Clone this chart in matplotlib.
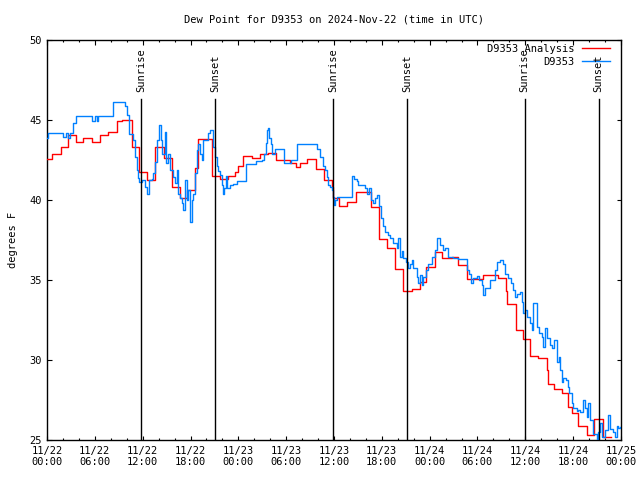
import matplotlib
matplotlib.use("Agg")
import matplotlib.pyplot as plt
from matplotlib.ticker import MultipleLocator, FixedLocator

# ---- data (hours since 2024-11-22 00:00 UTC) ----
analysis_hours = [0.0, 0.59, 1.72, 2.60, 3.64, 4.55, 5.61, 6.65, 7.69, 8.74, 9.41, 10.70,
                  11.58, 12.51, 13.55, 14.68, 15.72, 16.68, 17.52, 18.57, 18.98, 20.66,
                  21.70, 22.74, 23.58, 24.00, 24.62, 25.68, 26.72, 27.76, 28.73, 30.48,
                  31.24, 31.74, 32.58, 33.74, 34.75, 35.71, 35.91, 36.66, 37.59, 38.76,
                  40.60, 41.68, 42.61, 43.66, 44.69, 45.75, 46.79, 47.54, 48.67, 49.51,
                  50.77, 51.60, 52.65, 54.73, 56.57, 57.60, 57.70, 58.79, 59.75, 60.59,
                  61.63, 62.68, 62.80, 63.60, 64.64, 65.40, 65.82, 66.57, 67.70, 68.66,
                  69.71, 70.72]
analysis_vals = [42.54, 42.86, 43.29, 44.06, 43.65, 43.85, 43.65, 44.06, 44.27, 44.94, 45.0, 43.33,
                 41.77, 41.25, 43.33, 42.6, 40.83, 40.1, 40.6, 41.98, 43.81, 41.5,
                 41.29, 41.5, 41.77, 42.1, 42.77, 42.6, 42.88, 42.96, 42.5, 42.29,
                 42.08, 42.3, 42.54, 41.92, 41.25, 40.83, 40.1, 39.63, 39.85, 40.5,
                 39.54, 37.54, 36.98, 35.69, 34.31, 34.44, 34.9, 35.83, 36.77, 36.35,
                 36.42, 35.94, 35.04, 35.3, 35.1, 34.3, 33.5, 31.875, 31.29, 30.25,
                 30.14, 29.4, 28.5, 28.17, 27.92, 27.08, 26.67, 25.875, 25.31, 26.29,
                 25.21, 25.21]

obs_hours = [0.0, 0.13, 0.38, 2.01, 2.38, 2.63, 2.89, 3.26, 3.64, 3.80, 5.61, 6.02, 6.27, 6.40,
             8.32, 9.78, 10.07, 10.32, 10.83, 11.04, 11.25, 11.45, 11.58, 11.92, 12.29, 12.58,
             12.80, 13.11, 13.33, 13.55, 13.76, 14.09, 14.24, 14.43, 14.80, 14.93, 15.22, 15.43,
             15.77, 16.06, 16.27, 16.47, 16.68, 16.90, 17.10, 17.31, 17.52, 17.72, 17.94, 18.15,
             18.35, 18.57, 18.78, 18.98, 19.19, 19.41, 19.61, 20.03, 20.23, 20.45, 20.79, 20.86,
             21.07, 21.29, 21.49, 21.70, 21.91, 22.04, 22.20, 22.45, 22.58, 22.96, 23.37, 23.80,
             24.93, 26.22, 26.97, 27.22, 27.47, 27.56, 27.69, 27.89, 28.06, 28.19, 28.60, 29.64,
             29.73, 30.48, 30.57, 31.40, 33.74, 33.91, 34.25, 34.66, 34.87, 35.09, 35.29, 35.50,
             35.79, 35.91, 36.00, 36.13, 36.34, 38.22, 38.55, 38.85, 39.05, 39.48, 39.89, 40.10,
             40.43, 40.60, 40.86, 41.14, 41.43, 41.68, 41.86, 42.11, 42.40, 42.81, 43.03, 43.44,
             43.87, 44.07, 44.28, 44.49, 44.69, 45.03, 45.32, 45.53, 45.75, 45.95, 46.37, 46.58,
             46.79, 47.00, 47.20, 47.54, 47.83, 48.26, 48.67, 48.96, 49.30, 49.71, 49.93, 50.34,
             50.97, 51.60, 52.56, 52.65, 52.98, 53.15, 53.48, 53.90, 54.23, 54.53, 54.73, 54.94,
             55.57, 56.20, 56.41, 56.82, 57.24, 57.45, 57.83, 58.17, 58.42, 58.71, 59.00, 59.33,
             59.55, 59.75, 59.96, 60.17, 60.59, 60.80, 61.00, 61.21, 61.43, 61.75, 62.05, 62.26,
             62.47, 62.68, 63.10, 63.31, 63.60, 63.85, 64.01, 64.22, 64.35, 64.56, 64.76, 65.10,
             65.31, 65.52, 65.82, 66.02, 66.45, 66.65, 66.86, 67.27, 67.49, 67.70, 67.90, 68.11,
             68.53, 68.95, 69.16, 69.37, 69.58, 70.00, 70.41, 70.62, 70.99, 71.25, 71.47, 71.66,
             71.88]
obs_vals = [43.9, 44.2, 44.17, 43.95, 44.17, 43.9, 44.17, 44.8, 45.25, 45.25, 44.96, 45.25, 44.96, 45.25,
            46.15, 45.9, 45.3, 44.1, 43.75, 42.7, 41.9, 41.35, 41.15, 41.25, 40.8, 40.4,
            41.25, 41.3, 41.67, 42.4, 43.75, 44.7, 43.75, 42.9, 44.27, 42.3, 42.9, 41.9,
            41.45, 41.06, 41.9, 40.4, 40.1, 39.8, 39.4, 41.25, 40.0, 40.6, 38.65, 40.0,
            40.4, 41.7, 43.1, 43.5, 42.9, 42.5, 43.75, 43.75, 44.2, 44.4, 44.0, 43.33,
            42.7, 42.1, 41.8, 41.56, 40.94, 40.375, 40.73, 41.5, 40.73, 40.94, 41.0, 41.2,
            42.25, 42.46, 42.5, 42.9, 43.54, 44.375, 44.48, 43.9, 43.5, 42.9, 43.17, 43.17,
            42.33, 42.33, 42.5, 43.48, 43.48, 43.2, 42.7, 42.1, 41.9, 41.46, 40.94, 40.83,
            40.6, 40.17, 39.7, 40.0, 40.17, 41.5, 41.3, 41.2, 40.94, 40.94, 40.73, 40.4,
            40.73, 40.0, 39.8, 40.1, 40.3, 39.6, 38.85, 38.4, 38.02, 37.8, 37.6, 37.3,
            37.0, 37.6, 36.46, 36.8, 36.35, 36.15, 35.73, 36.0, 36.25, 35.73, 35.2, 34.8,
            35.3, 34.7, 35.2, 35.6, 36.0, 36.46, 36.875, 37.6, 37.19, 36.875, 36.98, 36.46,
            36.35, 36.29, 36.29, 35.6, 35.4, 34.8, 35.1, 35.25, 35.0, 34.7, 34.06, 34.5,
            35.0, 35.6, 36.15, 36.25, 36.0, 35.4, 35.1, 34.8, 34.4, 33.96, 34.1, 34.27,
            33.6, 32.92, 33.1, 32.7, 32.3, 31.9, 33.58, 33.58, 32.08, 31.7, 31.46, 30.8,
            31.98, 31.35, 30.94, 30.73, 31.25, 31.25, 29.9, 30.2, 29.375, 28.65, 28.85, 28.75,
            28.33, 27.92, 27.3, 27.0, 26.8, 26.9, 26.77, 27.5, 26.98, 26.46, 27.3, 26.25,
            25.4, 25.0, 25.5, 26.04, 25.2, 25.6, 26.56, 25.7, 25.5, 25.2, 25.9, 25.73,
            25.8]

sun_hours = [11.85, 21.1, 35.9, 45.2, 59.9, 69.2]
sun_labels = ["Sunrise", "Sunset", "Sunrise", "Sunset", "Sunrise", "Sunset"]

xtick_hours = [0, 6, 12, 18, 24, 30, 36, 42, 48, 54, 60, 66, 72]
xtick_labels = ["11/22\n00:00", "11/22\n06:00", "11/22\n12:00", "11/22\n18:00",
                "11/23\n00:00", "11/23\n06:00", "11/23\n12:00", "11/23\n18:00",
                "11/24\n00:00", "11/24\n06:00", "11/24\n12:00", "11/24\n18:00",
                "11/25\n00:00"]

title = "Dew Point for D9353 on 2024-Nov-22 (time in UTC)"

# ---- plot ----
plt.rcParams['font.family'] = ['DejaVu Sans Mono']
fs = 7.5
fig = plt.figure(figsize=(6.4, 4.8), dpi=100)
ax = fig.add_axes([47/640, 40/480, 574/640, 400/480])

ax.plot(analysis_hours, analysis_vals, drawstyle='steps-post', color='#ff0000', lw=1.0,
        label='D9353 Analysis', zorder=3)
ax.plot(obs_hours, obs_vals, drawstyle='steps-post', color='#0080ff', lw=1.0,
        label='D9353', zorder=4)

ax.set_xlim(0, 72)
ax.set_ylim(25, 50)

for h, lab in zip(sun_hours, sun_labels):
    ax.plot([h, h], [25, 46.3], color='black', lw=1.0, zorder=5)
    ax.text(h, 46.75, lab, rotation=90, ha='center', va='bottom', fontsize=fs, zorder=6)

ax.xaxis.set_major_locator(FixedLocator(xtick_hours))
ax.set_xticklabels(xtick_labels, fontsize=fs)
ax.xaxis.set_minor_locator(MultipleLocator(2))
ax.yaxis.set_major_locator(MultipleLocator(5))
ax.tick_params(axis='both', which='major', direction='in', length=4.5*0.72, width=0.8,
               top=True, right=True, labelsize=fs, pad=4)
ax.tick_params(axis='both', which='minor', direction='in', length=2.5*0.72, width=0.8,
               top=True, right=False)
ax.tick_params(axis='y', which='minor', left=False, right=False)
for s in ax.spines.values():
    s.set_linewidth(1.0)

ax.set_ylabel('degrees F', fontsize=fs, labelpad=8)
fig.text(334/640, 1 - 20/480, title, ha='center', va='center', fontsize=fs)

leg = ax.legend(loc='upper right', bbox_to_anchor=(0.981, 0.99), frameon=False, fontsize=fs,
                markerfirst=False, handlelength=2.7, borderaxespad=0.0, handletextpad=0.7,
                labelspacing=0.25, borderpad=0.0)
for t in leg.get_texts():
    t.set_ha('right')

fig.savefig('out.png', dpi=100)
